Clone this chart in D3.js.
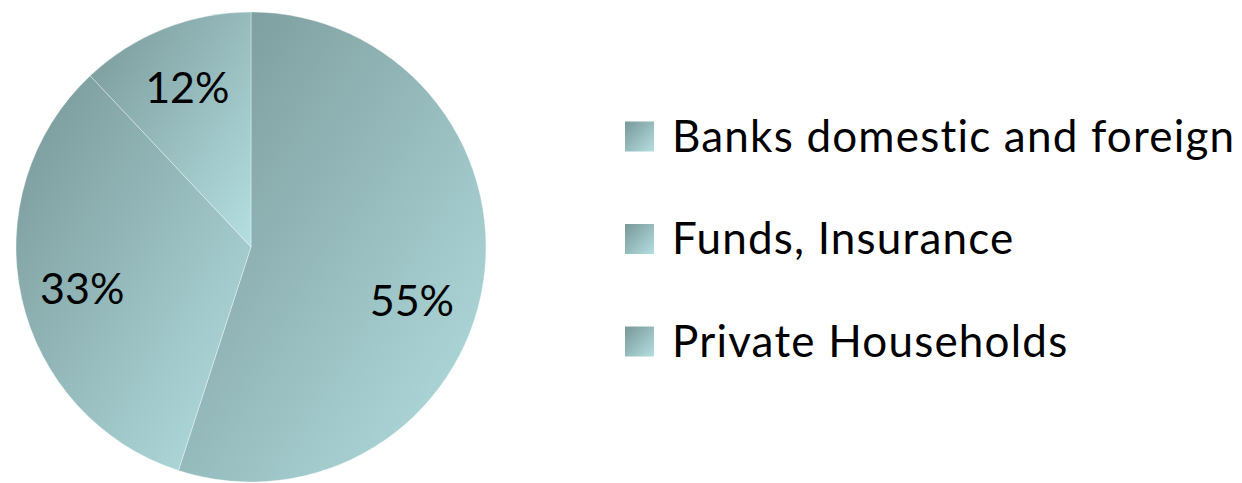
<!DOCTYPE html>
<html>
<head>
<meta charset="utf-8">
<script src="https://cdn.jsdelivr.net/npm/d3@7"></script>
<style>
  html, body { margin: 0; padding: 0; background: #ffffff; }
  svg { display: block; }
  text { font-family: Lato, "Open Sans", sans-serif; fill: #000; font-variant-ligatures: none; font-feature-settings: "liga" 0, "clig" 0; }
</style>
</head>
<body>
<svg id="chart" width="1242" height="483"></svg>
<script>
// Holders of debt, share of total (%)
const categories = ["Banks domestic and foreign", "Funds, Insurance", "Private Households"];
const shares = [55, 33, 12];
const shareLabels = ["55%", "33%", "12%"];

const W = 1242, H = 483;
const cx = 251, cy = 247, R = 235;
const gradDark = "#789798", gradLight = "#b4dfe1";
// best-fit nudges for the percentage labels (px)
const labelNudge = [[-10, 25], [0, 3], [0, 0]];

const svg = d3.select("#chart");
const defs = svg.append("defs");

// One diagonal gradient per slice / legend key (top-left dark -> bottom-right light)
categories.forEach((c, i) => {
  const g = defs.append("linearGradient")
    .attr("id", "grad" + i)
    .attr("x1", 0).attr("y1", 0).attr("x2", 1).attr("y2", 1);
  g.append("stop").attr("offset", "0%").attr("stop-color", gradDark);
  g.append("stop").attr("offset", "100%").attr("stop-color", gradLight);
});

const data = categories.map((c, i) => ({ name: c, value: shares[i], label: shareLabels[i], i }));

const pie = d3.pie().sort(null).value(d => d.value);
const arcs = pie(data);
const arc = d3.arc().innerRadius(0).outerRadius(R);
const labelArc = d3.arc().innerRadius(173).outerRadius(173);

const g = svg.append("g").attr("transform", `translate(${cx},${cy})`);

g.selectAll("path.slice")
  .data(arcs)
  .join("path")
  .attr("class", "slice")
  .attr("d", arc)
  .attr("fill", d => `url(#grad${d.data.i})`)
  .attr("stroke", "rgba(255,255,255,0.45)")
  .attr("stroke-width", 0.8);

g.selectAll("text.pct")
  .data(arcs)
  .join("text")
  .attr("class", "pct")
  .attr("x", d => labelArc.centroid(d)[0] + labelNudge[d.data.i][0])
  .attr("y", d => labelArc.centroid(d)[1] + labelNudge[d.data.i][1])
  .attr("text-anchor", "middle")
  .attr("dominant-baseline", "central")
  .attr("font-size", 43)
  .text(d => d.data.label);

// Legend
const legendY = d3.scalePoint().domain(categories).range([136.5, 341.5]);
const leg = svg.append("g");
const rows = leg.selectAll("g.row").data(data).join("g")
  .attr("class", "row")
  .attr("transform", d => `translate(0,${legendY(d.name)})`);

rows.append("rect")
  .attr("x", 625).attr("y", -15)
  .attr("width", 29).attr("height", 30)
  .attr("fill", d => `url(#grad${d.i})`);

rows.append("text")
  .attr("x", 672).attr("y", 15)
  .attr("font-size", 44)
  .attr("letter-spacing", 1.2)
  .text(d => d.name);
</script>
</body>
</html>
